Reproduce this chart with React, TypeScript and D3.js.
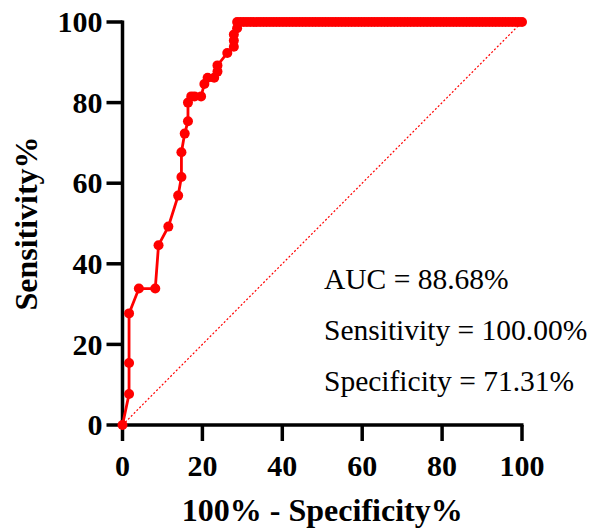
import React from "react";
import * as d3 from "d3";

const W = 591;
const H = 529;

// 100% - Specificity% (x) and Sensitivity% (y) for the rising part of the ROC curve
const fprRise = [0, 1.64, 1.64, 1.64, 4.10, 8.20, 9.02, 11.48, 13.93, 14.75, 14.75, 15.57, 16.39, 16.39, 17.21, 18.03, 19.67, 20.49, 21.31, 22.95, 23.77, 23.77, 26.23, 27.87, 27.87, 27.87, 28.69, 28.69];
const tprRise = [0, 7.69, 15.38, 27.69, 33.85, 33.85, 44.62, 49.23, 56.92, 61.54, 67.69, 72.31, 75.38, 80.00, 81.54, 81.54, 81.54, 84.62, 86.15, 86.15, 87.69, 89.23, 92.31, 93.85, 95.38, 96.92, 98.46, 100];
// points along the top (Sensitivity = 100%)
const fprTop = [29.51, 30.33, 31.15, 31.97, 32.79, 33.61, 34.43, 35.25, 36.07, 36.89, 37.70, 38.52, 39.34, 40.16, 40.98, 41.80, 42.62, 43.44, 44.26, 45.08, 45.90, 46.72, 47.54, 48.36, 49.18, 50.00, 50.82, 51.64, 52.46, 53.28, 54.10, 54.92, 55.74, 56.56, 57.38, 58.20, 59.02, 59.84, 60.66, 61.48, 62.30, 63.11, 63.93, 64.75, 65.57, 66.39, 67.21, 68.03, 68.85, 69.67, 70.49, 71.31, 72.13, 72.95, 73.77, 74.59, 75.41, 76.23, 77.05, 77.87, 78.69, 79.51, 80.33, 81.15, 81.97, 82.79, 83.61, 84.43, 85.25, 86.07, 86.89, 87.70, 88.52, 89.34, 90.16, 90.98, 91.80, 92.62, 93.44, 94.26, 95.08, 95.90, 96.72, 97.54, 98.36, 99.18, 100.0];
const tprTop = fprTop.map(() => 100);

const xTicks = [0, 20, 40, 60, 80, 100];
const yTicks = [0, 20, 40, 60, 80, 100];
const annotations = ["AUC = 88.68%", "Sensitivity = 100.00%", "Specificity = 71.31%"];
const xTitle = "100% - Specificity%";
const yTitle = "Sensitivity%";

export default function App() {
  const x = d3.scaleLinear().domain([0, 100]).range([122.5, 522]);
  const y = d3.scaleLinear().domain([0, 100]).range([425, 22]);
  const pts: [number, number][] = [
    ...fprRise.map((v, i) => [v, tprRise[i]] as [number, number]),
    ...fprTop.map((v, i) => [v, tprTop[i]] as [number, number]),
  ];
  const line = d3.line<[number, number]>().x((d) => x(d[0])).y((d) => y(d[1]));
  const font = "'Liberation Serif', 'Times New Roman', serif";
  const red = "#ff0000";
  return (
    <svg width={W} height={H} style={{ position: "absolute", left: 0, top: 0, background: "#fff" }} fontFamily={font}>
      {/* diagonal reference */}
      <line x1={x(0)} y1={y(0)} x2={x(100)} y2={y(100)} stroke={red} strokeWidth={1.2} strokeDasharray="2,2" />
      {/* axes */}
      <line x1={x(0)} y1={y(0)} x2={x(0)} y2={y(100) - 1.5} stroke="#000" strokeWidth={3.5} />
      <line x1={x(0) - 1.75} y1={y(0)} x2={x(100) + 1.5} y2={y(0)} stroke="#000" strokeWidth={3.5} />
      {yTicks.map((t) => (
        <g key={"y" + t}>
          <line x1={x(0) - 16} x2={x(0)} y1={y(t)} y2={y(t)} stroke="#000" strokeWidth={3.5} />
          <text x={x(0) - 20} y={y(t)} dy="0.34em" textAnchor="end" fontSize={30} fontWeight="bold">{t}</text>
        </g>
      ))}
      {xTicks.map((t) => (
        <g key={"x" + t}>
          <line x1={x(t)} x2={x(t)} y1={y(0)} y2={y(0) + 16} stroke="#000" strokeWidth={3.5} />
          <text x={x(t)} y={476} textAnchor="middle" fontSize={30} fontWeight="bold">{t}</text>
        </g>
      ))}
      <text x={(x(0) + x(100)) / 2} y={521} textAnchor="middle" fontSize={32} fontWeight="bold">{xTitle}</text>
      <text transform={`translate(37,${(y(0) + y(100)) / 2}) rotate(-90)`} textAnchor="middle" fontSize={32} fontWeight="bold">{yTitle}</text>
      {/* curve */}
      <path d={line(pts) || ""} fill="none" stroke={red} strokeWidth={2.8} />
      {pts.map((p, i) => (
        <circle key={i} cx={x(p[0])} cy={y(p[1])} r={5} fill={red} />
      ))}
      {annotations.map((a, i) => (
        <text key={a} x={324} y={289 + i * 51} fontSize={29.5}>{a}</text>
      ))}
    </svg>
  );
}
